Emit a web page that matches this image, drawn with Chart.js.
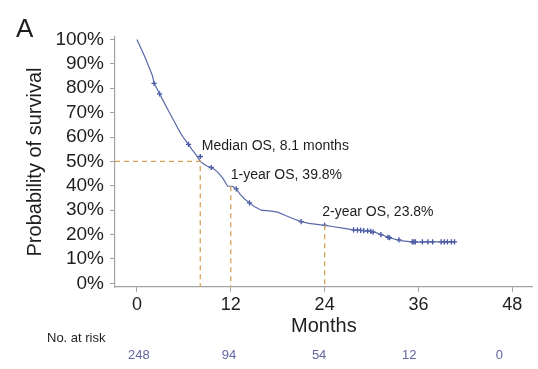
<!DOCTYPE html>
<html>
<head>
<meta charset="utf-8">
<script src="https://cdn.jsdelivr.net/npm/chart.js@4/dist/chart.umd.min.js"></script>
<style>
  html, body { margin: 0; padding: 0; background: #fff; }
  canvas { display: block; }
</style>
</head>
<body>
<canvas id="km" width="538" height="369"></canvas>
<script>
// survival curve (months, % surviving)
const months   = [0, 0.5, 1, 1.5, 2, 2.2, 2.9, 3.5, 4, 4.5, 5, 5.5, 6, 6.6, 7, 7.5, 8.1, 8.5, 9, 9.5, 10, 10.5, 11, 11.6, 12.2, 12.7, 13.2, 13.8, 14.4, 15, 15.9, 16.5, 17.2, 18, 19, 20, 21, 22, 23, 24, 25, 26.5, 27.7, 29, 30.4, 31.2, 32.4, 33.7, 35.4, 38, 40.7];
const survival = [100, 96.5, 93, 89, 85, 82, 77.7, 74, 71, 68, 65, 62, 59.5, 57, 55, 53, 50, 49, 48, 47.5, 46.5, 45, 43, 39.8, 39.8, 38.7, 36.5, 34.5, 33, 31.5, 30, 29.8, 29.6, 29.2, 27.8, 26.5, 25.3, 24.6, 24.2, 23.8, 23.3, 22.5, 21.9, 21.6, 21, 20, 18.6, 17.5, 16.9, 17, 17];

// censored patients
const censorMonths   = [2.2, 2.9, 6.6, 8.1, 9.5, 12.7, 14.4, 21, 24, 27.7, 28.2, 28.6, 29, 29.5, 29.9, 30.2, 31.2, 32.1, 32.3, 33.5, 35.2, 35.4, 35.6, 36.5, 37.2, 37.8, 38.9, 39.3, 39.7, 40.2, 40.6];
const censorSurvival = [82, 77.7, 57, 52, 47.5, 38.7, 33, 25.3, 23.8, 21.9, 21.8, 21.7, 21.6, 21.5, 21.3, 21, 20, 18.9, 18.7, 17.8, 17, 17, 17, 17, 17, 17, 17, 17, 17, 17, 17];

const xTicks = [0, 12, 24, 36, 48];
const yTicks = [0, 10, 20, 30, 40, 50, 60, 70, 80, 90, 100];

const riskTimes = [0, 12, 24, 36, 48];
const atRisk = [248, 94, 54, 12, 0];

const medianOS = 8.1;
const oneYearOS = 39.8;
const twoYearOS = 23.8;

const xMin = -2.8, xMax = 50.6;
const yMin = -1.5, yMax = 101;

const FONT = "'Liberation Sans', Arial, Helvetica, sans-serif";
const curveColor = "#5a69a8";
const censorColor = "#3f4fa2";
const dashColor = "#d6a258";

const toPoints = (xs, ys) => xs.map((x, i) => ({ x, y: ys[i] }));

const dashed = {
  type: "line",
  borderColor: dashColor,
  borderWidth: 1.3,
  borderDash: [5, 4],
  pointRadius: 0,
  fill: false
};

const overlay = {
  id: "overlay",
  afterDraw(c) {
    const ctx = c.ctx;
    const xs = c.scales.x, ys = c.scales.y;
    ctx.save();
    ctx.fillStyle = "#1e1e1e";

    // panel letter
    ctx.font = "26px " + FONT;
    ctx.textAlign = "left";
    ctx.textBaseline = "alphabetic";
    ctx.fillText("A", 16, 37);

    // y title
    ctx.save();
    ctx.translate(35, (ys.top + ys.bottom) / 2);
    ctx.rotate(-Math.PI / 2);
    ctx.font = "20px " + FONT;
    ctx.textAlign = "center";
    ctx.textBaseline = "middle";
    ctx.fillText("Probability of survival", 0, 0);
    ctx.restore();

    // x title
    ctx.font = "20px " + FONT;
    ctx.textAlign = "center";
    ctx.textBaseline = "middle";
    ctx.fillText("Months", (xs.left + xs.right) / 2, 326);

    // annotations
    ctx.font = "14px " + FONT;
    ctx.textAlign = "left";
    ctx.textBaseline = "middle";
    ctx.fillText("Median OS, " + medianOS + " months", xs.getPixelForValue(8.3), ys.getPixelForValue(56.1));
    ctx.fillText("1-year OS, " + oneYearOS + "%", xs.getPixelForValue(12), ys.getPixelForValue(44.3));
    ctx.fillText("2-year OS, " + twoYearOS + "%", xs.getPixelForValue(23.7), ys.getPixelForValue(29.1));

    // number at risk table (columns sit slightly tighter than the axis)
    ctx.font = "13px " + FONT;
    ctx.fillText("No. at risk", 47, 338);
    ctx.fillStyle = "#6465a0";
    ctx.textAlign = "center";
    const x0 = xs.getPixelForValue(0);
    riskTimes.forEach((t, i) => {
      const px = x0 + 2 + (xs.getPixelForValue(t) - x0) * 0.96;
      ctx.fillText(String(atRisk[i]), px, 355);
    });
    ctx.restore();
  }
};

new Chart(document.getElementById("km"), {
  data: {
    datasets: [
      Object.assign({ data: [{ x: xMin, y: 50 }, { x: medianOS, y: 50 }, { x: medianOS, y: yMin }] }, dashed),
      Object.assign({ data: [{ x: 12, y: oneYearOS }, { x: 12, y: yMin }] }, dashed),
      Object.assign({ data: [{ x: 24, y: twoYearOS }, { x: 24, y: yMin }] }, dashed),
      {
        type: "line",
        data: toPoints(months, survival),
        borderColor: curveColor,
        borderWidth: 1.2,
        pointRadius: 0,
        fill: false,
        tension: 0
      },
      {
        type: "scatter",
        data: toPoints(censorMonths, censorSurvival),
        pointStyle: "cross",
        pointRadius: 2.6,
        borderColor: censorColor,
        backgroundColor: censorColor,
        pointBorderWidth: 1.3
      }
    ]
  },
  options: {
    responsive: false,
    animation: false,
    layout: { padding: { top: 37, right: 5, left: 0, bottom: 0 } },
    plugins: { legend: { display: false }, tooltip: { enabled: false } },
    scales: {
      x: {
        type: "linear",
        min: xMin,
        max: xMax,
        afterBuildTicks: s => { s.ticks = xTicks.map(v => ({ value: v })); },
        afterFit: s => { s.height = 82; },
        border: { color: "#a3a3a3", width: 1.2 },
        grid: { drawOnChartArea: false, tickLength: 5, color: "#a3a3a3" },
        ticks: { font: { family: FONT, size: 18 }, color: "#1e1e1e", padding: 2, maxRotation: 0, autoSkip: false }
      },
      y: {
        type: "linear",
        min: yMin,
        max: yMax,
        afterBuildTicks: s => { s.ticks = yTicks.map(v => ({ value: v })); },
        afterFit: s => { s.width = 115; },
        border: { color: "#a3a3a3", width: 1.2 },
        grid: { drawOnChartArea: false, tickLength: 5, color: "#a3a3a3" },
        ticks: { font: { family: FONT, size: 19 }, color: "#1e1e1e", padding: 6, autoSkip: false, callback: v => v + "%" }
      }
    }
  },
  plugins: [overlay]
});
</script>
</body>
</html>
